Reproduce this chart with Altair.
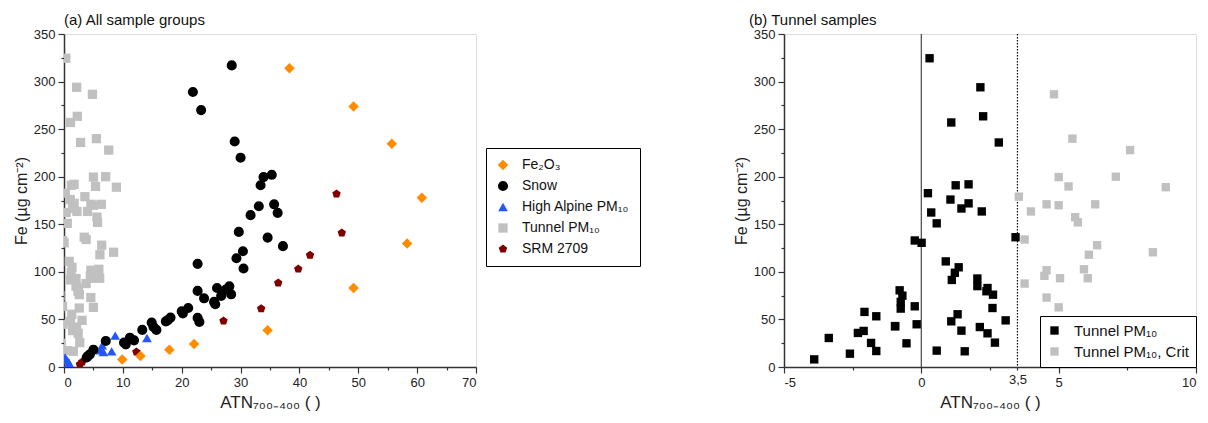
import altair as alt
import pandas as pd

FONT = "Liberation Sans"

# ---------------- Panel (a): all sample groups ----------------
fe2o3_x = [9.9, 13.0, 17.9, 22.1, 34.6, 38.3, 49.2, 49.2, 55.7, 58.3, 60.8]
fe2o3_y = [8, 11.6, 18.2, 24.2, 38.6, 314, 273.7, 83, 234.7, 129.8, 178]

snow_x = [28.5, 21.9, 23.3, 29.0, 30.0, 33.9, 35.3, 33.4, 35.7, 36.3, 34.6, 37.2,
          22.7, 29.7, 30.4, 29.3, 30.5, 31.7, 33.1, 22.7, 23.8, 25.5, 26.0, 26.7,
          27.5, 28.1, 28.4, 25.7, 21.1, 20.0, 20.2, 22.7, 23.0, 18.1, 17.6, 17.3,
          14.9, 15.2, 15.7, 13.3, 11.2, 11.9, 10.2, 10.5, 7.1, 5.0, 4.4, 4.0, 3.85]
snow_y = [317, 289, 270, 237, 220, 199.6, 202, 191, 171, 162, 136, 127,
          108.4, 142, 121.7, 114.3, 103.5, 159.6, 169, 80, 72.2, 68.4, 83, 74.7,
          81.4, 84.8, 76.4, 66, 62, 58.5, 56.4, 51.6, 47.4, 51.9, 49, 48,
          46.6, 42.1, 39, 39, 30.8, 28, 25.6, 23.8, 27.4, 18.2, 13.3, 11.2, 10]

alpine_x = [0.2, 0.56, 0.85, 6.2, 6.5, 6.7, 8.1, 8.7, 14.1]
alpine_y = [10, 7, 4.5, 17.5, 22.7, 15.8, 16.4, 33, 30.5]

srm_x = [2.7, 3.1, 12.3, 27.1, 33.5, 36.4, 39.8, 41.8, 47.2, 46.3]
srm_y = [2.7, 5.3, 15.8, 48.4, 61.4, 88.4, 103, 117.5, 141, 182]

# ---------------- Panel (b): tunnel samples ----------------
tunnel_x = [0.30, 2.15, 2.25, 1.09, 2.82, 1.25, 1.72, 0.24, 1.06, 1.72, 1.46, 2.2,
            0.36, 0.56, -0.24, 0.01, 3.43, 0.89, 1.36, 1.22, 1.11, 2.04, 2.04, 2.41,
            2.37, 2.61, -0.79, -0.69, -0.75, -0.75, -0.24, 2.59, 1.32, 1.09, 3.07, -0.96,
            -0.17, 1.46, 2.13, 2.41, 2.68, -0.54, 0.56, 1.58, -3.37, -2.6, -3.9, -2.31,
            -2.1, -2.07, -1.64, -1.83, -1.64, -0.95]
tunnel_y = [324.5, 294, 263.5, 257, 236, 191, 192, 182.7, 176, 172, 166.6, 163.5,
            162.4, 151, 133, 130.5, 136.4, 111, 104.8, 99, 91.5, 93, 85, 83,
            79.6, 76, 80.6, 75, 68.4, 61.4, 63.8, 62, 55.4, 48, 49, 42.8,
            44.9, 38.2, 42, 35.4, 25.6, 24.9, 17.2, 16.5, 30.5, 14, 8, 35.8,
            37.9, 57.9, 53.3, 25.3, 16.8, 43]

crit_x = [3.55, 3.99, 4.56, 3.76, 3.76, 4.56, 4.48, 4.56, 7.6, 7.08, 5.0, 5.36,
          8.9, 5.0, 6.33, 5.6, 5.7, 6.4, 6.1, 8.43, 5.92, 6.06, 5.05, 5.0, 4.83, 5.5]
crit_y = [179, 163.5, 171, 134, 87.7, 101.7, 95.8, 73, 228, 200, 199.6, 189.8,
          189, 170, 171, 157.5, 152, 128, 118, 120.6, 102.7, 93.3, 93.3, 62.7, 286.6, 240]

# ---------------- labels / styles ----------------
groups_a = ["Fe\u2082O\u2083", "Snow", "High Alpine PM\u2081\u2080", "Tunnel PM\u2081\u2080", "SRM 2709"]
colors_a = ["#FF8C00", "#000000", "#2455FF", "#C0C0C0", "#800000"]
pentagon = "M0,-1L0.951,-0.309L0.588,0.809L-0.588,0.809L-0.951,-0.309Z"
shapes_a = ["diamond", "circle", "triangle-up", "square", pentagon]
sizes_a = [110, 78, 95, 60, 95]

groups_b = ["Tunnel PM\u2081\u2080", "Tunnel PM\u2081\u2080, Crit"]
colors_b = ["#000000", "#C0C0C0"]

x_title = "ATN\u2087\u2080\u2080\u208B\u2084\u2080\u2080 ( )"
y_title = "Fe (\u00b5g cm\u207b\u00b2)"

# ---------------- tables ----------------
def frame(xs, ys, name):
    return pd.DataFrame({"x": xs, "y": ys, "group": name})

df_a = pd.concat([
    frame(tunnel_x + crit_x, tunnel_y + crit_y, groups_a[3]),
    frame(alpine_x, alpine_y, groups_a[2]),
    frame(srm_x, srm_y, groups_a[4]),
    frame(snow_x, snow_y, groups_a[1]),
    frame(fe2o3_x, fe2o3_y, groups_a[0]),
], ignore_index=True)
df_a["order"] = range(len(df_a))

df_b = pd.concat([
    frame(tunnel_x, tunnel_y, groups_b[0]),
    frame(crit_x, crit_y, groups_b[1]),
], ignore_index=True)

axis_common = dict(
    labelFont=FONT, labelFontSize=13, labelColor="#222",
    titleFont=FONT, titleFontWeight="normal", titleColor="#222",
    domainColor="#333", domainWidth=1.5, tickColor="#333", tickWidth=1.2,
    grid=False, labelOverlap=False,
)

y_axis = alt.Axis(
    title=y_title, titleFontSize=16, titlePadding=4,
    values=list(range(0, 351, 25)),
    labelExpr="datum.value % 50 == 0 ? datum.label : ''",
    tickSize={"condition": {"test": "datum.value % 50 == 0", "value": 6}, "value": 3},
    labelPadding=3, **axis_common)

x_axis_a = alt.Axis(
    title=x_title, titleFontSize=17, titlePadding=5,
    values=list(range(0, 71, 5)),
    labelExpr="datum.value % 10 == 0 ? datum.label : ''",
    tickSize={"condition": {"test": "datum.value % 10 == 0", "value": 6}, "value": 3},
    labelPadding=3, **axis_common)

x_axis_b = alt.Axis(
    title=x_title, titleFontSize=17, titlePadding=5,
    values=[-5, -2.5, 0, 2.5, 3.5, 5, 7.5, 10],
    labelExpr="datum.value == 3.5 ? '3,5' : (datum.value % 5 == 0 ? toString(datum.value) : '')",
    tickSize={"condition": {"test": "datum.value % 5 == 0", "value": 6}, "value": 3},
    labelPadding=3, **axis_common)

W, H = 412, 333

panel_a = alt.Chart(df_a).mark_point(filled=True, opacity=1, clip=True).encode(
    x=alt.X("x:Q", scale=alt.Scale(domain=[0, 70], nice=False), axis=x_axis_a),
    y=alt.Y("y:Q", scale=alt.Scale(domain=[0, 350], nice=False), axis=y_axis),
    color=alt.Color("group:N", scale=alt.Scale(domain=groups_a, range=colors_a),
                    legend=alt.Legend(title=None, orient="none", legendX=422, legendY=114,
                                      strokeColor="#000", fillColor="white", padding=10,
                                      labelFont=FONT, labelFontSize=14, labelColor="#111",
                                      labelOffset=12, symbolSize=75, rowPadding=7,
                                      labelLimit=200, symbolStrokeWidth=0, cornerRadius=0)),
    shape=alt.Shape("group:N", scale=alt.Scale(domain=groups_a, range=shapes_a)),
    size=alt.Size("group:N", scale=alt.Scale(domain=groups_a, range=sizes_a), legend=None),
    order=alt.Order("order:Q"),
).properties(
    width=W, height=H,
    title=alt.TitleParams("(a) All sample groups", anchor="start", frame="group",
                          font=FONT, fontSize=15, fontWeight="normal", color="#111", offset=0),
)

points_b = alt.Chart(df_b).mark_point(filled=True, opacity=1, shape="square", size=70, clip=True).encode(
    x=alt.X("x:Q", scale=alt.Scale(domain=[-5, 10], nice=False), axis=x_axis_b),
    y=alt.Y("y:Q", scale=alt.Scale(domain=[0, 350], nice=False), axis=y_axis),
    color=alt.Color("group:N", scale=alt.Scale(domain=groups_b, range=colors_b),
                    legend=alt.Legend(title=None, orient="bottom-right", offset=0,
                                      strokeColor="#000", fillColor="white", padding=7,
                                      labelFont=FONT, labelFontSize=15, labelColor="#111",
                                      labelOffset=12, symbolType="square", symbolSize=70,
                                      rowPadding=5, symbolStrokeWidth=0, labelLimit=200)),
)

rule_zero = alt.Chart(pd.DataFrame({"x": [0]})).mark_rule(color="#555", strokeWidth=1.3).encode(x="x:Q")
rule_crit = alt.Chart(pd.DataFrame({"x": [3.5]})).mark_rule(color="#000", strokeWidth=1.2, strokeDash=[1.5, 1.5]).encode(x="x:Q")

panel_b = alt.layer(rule_zero, rule_crit, points_b).properties(
    width=W, height=H,
    title=alt.TitleParams("(b) Tunnel samples", anchor="start", frame="group", dx=-35,
                          font=FONT, fontSize=15, fontWeight="normal", color="#111", offset=0),
)

chart = alt.hconcat(panel_a, panel_b, spacing=91).resolve_scale(
    color="independent", shape="independent", size="independent", x="independent"
).properties(
    padding={"left": 4, "top": 4, "right": 0, "bottom": 0}
).configure_view(stroke="#555", strokeWidth=1.5).configure(font=FONT)

chart.save("out.html", embed_options={"renderer": "svg", "actions": False})
